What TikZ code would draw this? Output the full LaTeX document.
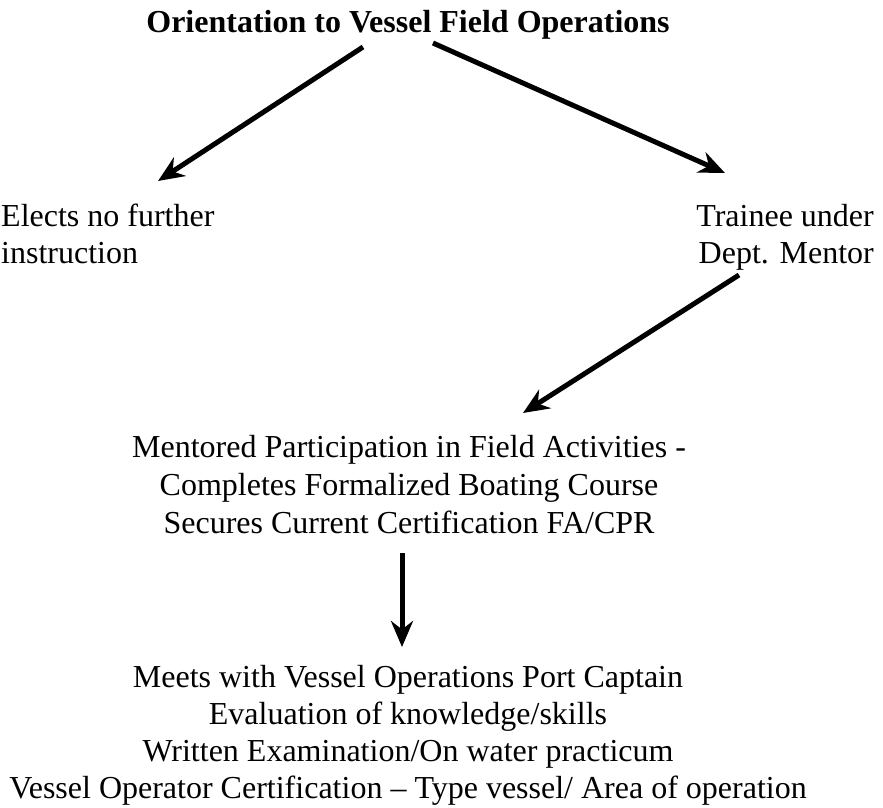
\documentclass[tikz,border=0pt]{standalone}
\usepackage{fontspec}
\setmainfont{Liberation Serif}
\usetikzlibrary{arrows.meta}
\begin{document}
\begin{tikzpicture}[x=1pt,y=-1pt,
  txt/.style={inner sep=0pt,anchor=base,font=\fontsize{32}{37}\selectfont},
  arr/.style={line width=5pt,-{Stealth[length=26pt,width=22pt]}}]
\useasboundingbox (0,0) rectangle (883,808);
\node[txt,font=\fontsize{32}{37}\selectfont\bfseries] (title) at (408,33) {Orientation to Vessel Field Operations};
\node[txt,anchor=base west] (elects1) at (1,226) {Elects no further};
\node[txt,anchor=base west] (elects2) at (1,263) {instruction};
\node[txt,anchor=base east] (trainee1) at (874,226) {Trainee under};
\node[txt,anchor=base east] (trainee2) at (874,263) {Dept. Mentor};
\node[txt] (mentored1) at (409,457) {Mentored Participation in Field Activities -};
\node[txt] (mentored2) at (409,495) {Completes Formalized Boating Course};
\node[txt] (mentored3) at (409,533) {Secures Current Certification FA/CPR};
\node[txt] (meets1) at (408,687) {Meets with Vessel Operations Port Captain};
\node[txt] (meets2) at (408,724) {Evaluation of knowledge/skills};
\node[txt] (meets3) at (408,761) {Written Examination/On water practicum};
\node[txt] (meets4) at (408,798) {Vessel Operator Certification -- Type vessel/ Area of operation};
\coordinate (a1s) at (363,47); \coordinate (a1e) at (158,181);
\coordinate (a2s) at (433,43); \coordinate (a2e) at (725,173);
\coordinate (a3s) at (739,275); \coordinate (a3e) at (523,413);
\coordinate (a4s) at (402,553); \coordinate (a4e) at (402,647);
\draw[arr] (a1s) -- (a1e);
\draw[arr] (a2s) -- (a2e);
\draw[arr] (a3s) -- (a3e);
\draw[arr] (a4s) -- (a4e);
\end{tikzpicture}
\end{document}
